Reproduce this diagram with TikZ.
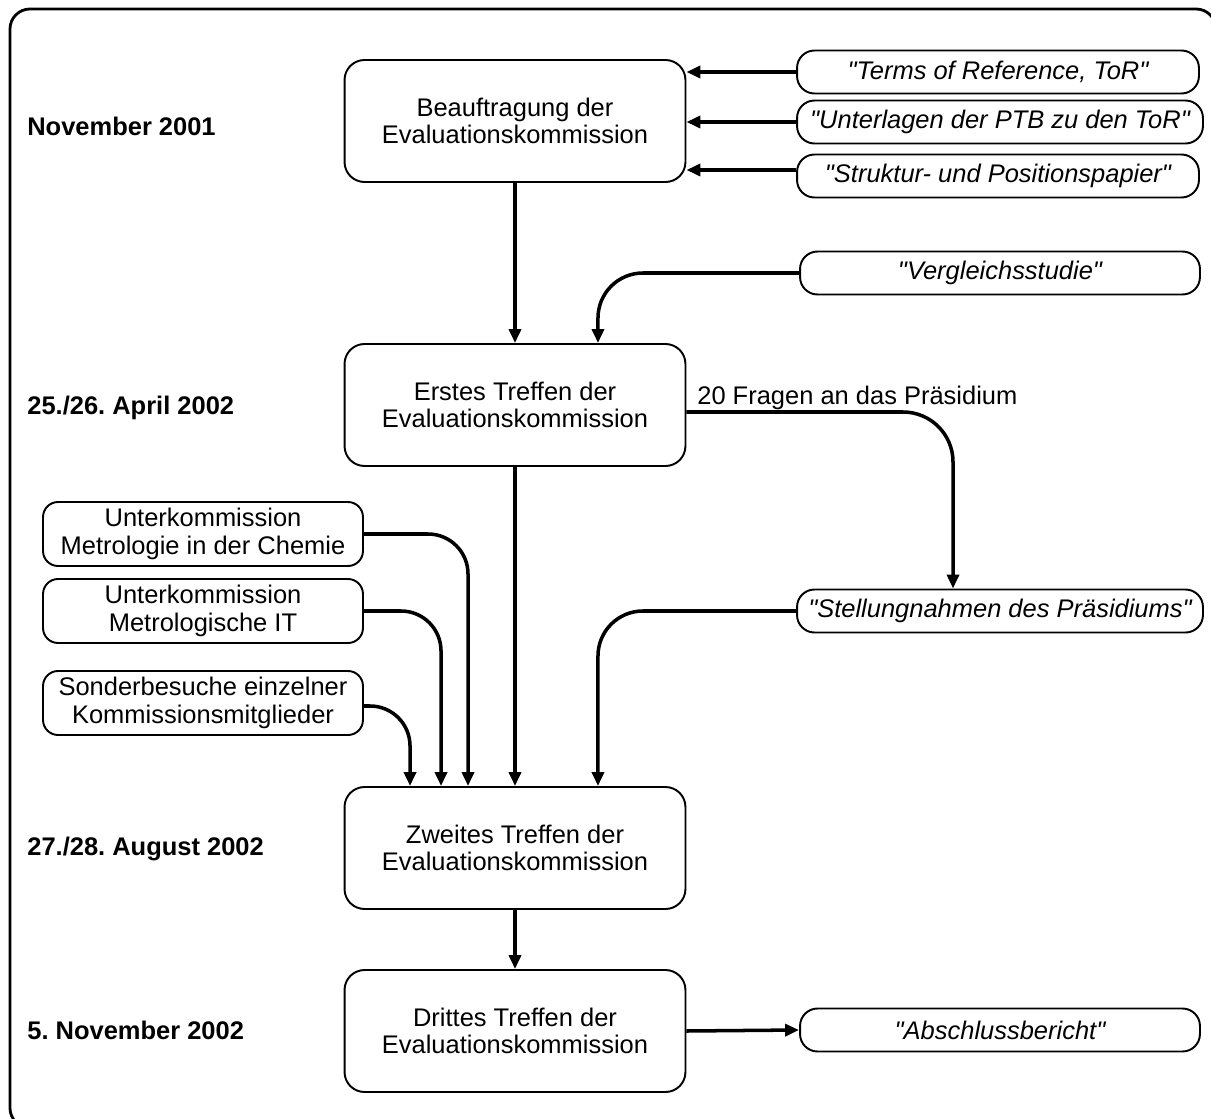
\documentclass[tikz,border=0pt]{standalone}
\usepackage{fontspec}
\setmainfont{Liberation Sans}[Ligatures=TeXOff]
\usetikzlibrary{arrows.meta, positioning}
\frenchspacing

\begin{document}
\begin{tikzpicture}[x=0.02cm, y=-0.02cm,
  every node/.style={font=\fontsize{14.5}{15.5}\selectfont},
  stage/.style={draw, line width=1.1pt, rounded corners=0.4cm, minimum width=6.82cm, minimum height=2.44cm, align=center, inner sep=0pt},
  docbox/.style={draw, line width=1.1pt, rounded corners=0.35cm, minimum width=8.04cm, minimum height=0.86cm, inner sep=0pt, font=\fontsize{14.5}{15.5}\selectfont\itshape},
  subbox/.style={draw, line width=1.1pt, rounded corners=0.3cm, minimum width=6.4cm, minimum height=1.28cm, align=center, inner sep=0pt},
  datum/.style={anchor=west, inner sep=0pt, font=\fontsize{14.5}{15.5}\selectfont\bfseries},
  conn/.style={line width=2pt, -{Triangle[length=0.28cm,width=0.24cm]}}]
  \useasboundingbox (0,0) rectangle (1211,1119);
  \draw[line width=1.6pt, rounded corners=0.4cm] (10,9) rectangle (1216,1128);

  \node[datum] (d1) at (27,126) {November 2001};
  \node[datum] (d2) at (27,408) {25./26. April 2002};
  \node[datum] (d3) at (27,849) {27./28. August 2002};
  \node[datum] (d4) at (27,1030) {5. November 2002};

  \node[stage] (beauf) at (515,121) {Beauftragung der\\Evaluationskommission};
  \node[stage] (erstes) at (515,405) {Erstes Treffen der\\Evaluationskommission};
  \node[stage] (zweites) at (515,848) {Zweites Treffen der\\Evaluationskommission};
  \node[stage] (drittes) at (515,1031) {Drittes Treffen der\\Evaluationskommission};

  \node[docbox] (tor) at (998,72) {"Terms of Reference, ToR"};
  \node[docbox, minimum width=8.12cm] (ptb) at (1000,122) {"Unterlagen der PTB zu den ToR"};
  \node[docbox] (pos) at (998,176) {"Struktur- und Positionspapier"};
  \node[docbox, minimum width=8cm] (vgl) at (1000,273) {"Vergleichsstudie"};
  \node[docbox, minimum width=8.12cm] (stell) at (1000,611) {"Stellungnahmen des Präsidiums"};
  \node[docbox, minimum width=8cm] (bericht) at (1000,1030) {"Abschlussbericht"};

  \node[subbox] (chem) at (203,534) {Unterkommission\\Metrologie in der Chemie};
  \node[subbox] (it) at (203,611) {Unterkommission\\Metrologische IT};
  \node[subbox] (sonder) at (203,703) {Sonderbesuche einzelner\\Kommissionsmitglieder};

  \node[anchor=base west, inner sep=0pt] (fragen) at (697,404) {20 Fragen an das Präsidium};

  \draw[conn] (tor.west) -- (tor.west -| beauf.east);
  \draw[conn] (ptb.west) -- (ptb.west -| beauf.east);
  \draw[conn] ([yshift=0.12cm]pos.west) -- ([yshift=0.12cm]pos.west -| beauf.east);
  \draw[conn] (beauf.south) -- (erstes.north);
  \draw[conn, rounded corners=0.9cm] (vgl.west) -| ([xshift=1.66cm]erstes.north);
  \draw[conn] (erstes.south) -- (zweites.north);
  \draw[conn, rounded corners=1cm] ([yshift=-0.14cm]erstes.east) -| ([xshift=-0.94cm]stell.north);
  \draw[conn, rounded corners=0.9cm] (stell.west) -| ([xshift=1.66cm]zweites.north);
  \draw[conn, rounded corners=0.8cm] (chem.east) -| ([xshift=-0.94cm]zweites.north);
  \draw[conn, rounded corners=0.8cm] (it.east) -| ([xshift=-1.48cm]zweites.north);
  \draw[conn, rounded corners=0.8cm] ([yshift=-0.06cm]sonder.east) -| ([xshift=-2.1cm]zweites.north);
  \draw[conn] (zweites.south) -- (drittes.north);
  \draw[conn] (drittes.east) -- (bericht.west);
\end{tikzpicture}
\end{document}
